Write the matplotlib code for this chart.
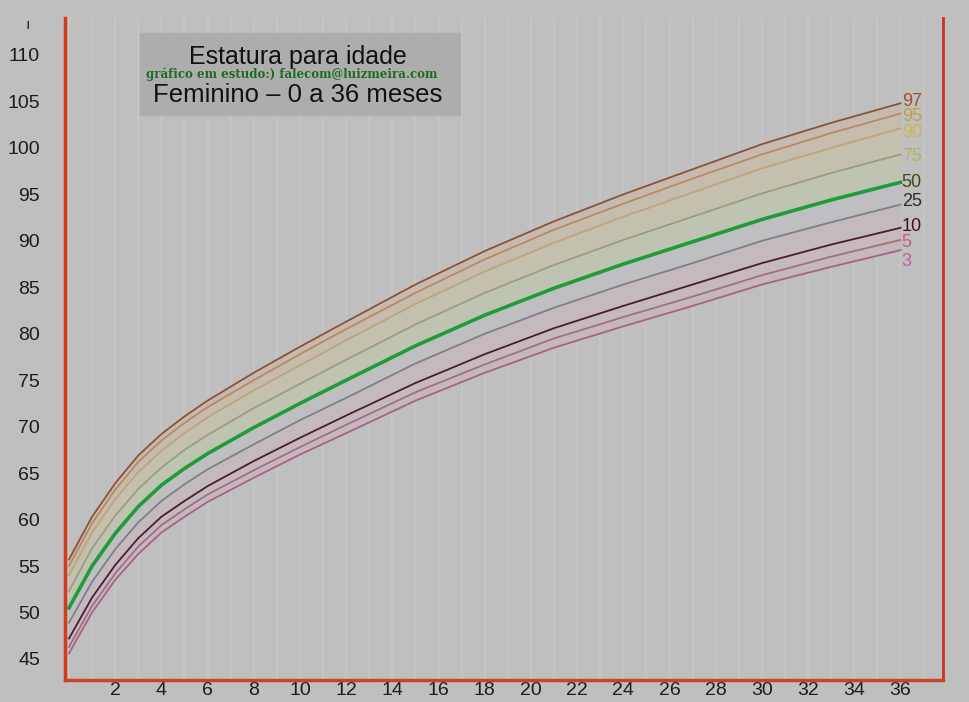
import numpy as np
import matplotlib
matplotlib.use("Agg")
from matplotlib import pyplot as plt

plt.rcParams['font.family'] = ['Liberation Sans', 'DejaVu Sans']

months = [0, 1, 2, 3, 4, 5, 6, 8, 10, 12, 15, 18, 21, 24, 27, 30, 33, 36]

p97 = [55.7, 60.3, 63.9, 66.9, 69.2, 71.1, 72.8, 75.8, 78.6, 81.3, 85.3, 88.9, 92.1, 95.0, 97.7, 100.4, 102.7, 104.8]
p95 = [55.0, 59.6, 63.2, 66.2, 68.5, 70.4, 72.1, 75.0, 77.8, 80.5, 84.4, 88.0, 91.2, 94.0, 96.7, 99.3, 101.6, 103.7]
p90 = [54.0, 58.6, 62.2, 65.1, 67.4, 69.3, 71.0, 73.9, 76.6, 79.3, 83.2, 86.7, 89.8, 92.6, 95.2, 97.8, 100.0, 102.1]
p75 = [52.3, 56.9, 60.4, 63.3, 65.6, 67.5, 69.1, 72.0, 74.6, 77.2, 81.0, 84.4, 87.4, 90.1, 92.6, 95.1, 97.3, 99.3]
p50 = [50.5, 55.0, 58.5, 61.4, 63.7, 65.5, 67.1, 69.9, 72.5, 75.0, 78.7, 82.0, 84.9, 87.5, 89.9, 92.3, 94.4, 96.3]
p25 = [48.9, 53.3, 56.8, 59.7, 62.0, 63.8, 65.4, 68.1, 70.7, 73.1, 76.8, 80.0, 82.8, 85.3, 87.6, 90.0, 92.0, 93.9]
p10 = [47.2, 51.6, 55.1, 58.0, 60.3, 62.0, 63.6, 66.3, 68.8, 71.2, 74.7, 77.8, 80.6, 83.0, 85.3, 87.6, 89.6, 91.4]
p5 = [46.3, 50.7, 54.2, 57.1, 59.4, 61.1, 62.7, 65.3, 67.8, 70.2, 73.7, 76.7, 79.5, 81.8, 84.0, 86.3, 88.3, 90.1]
p3 = [45.6, 50.0, 53.5, 56.3, 58.6, 60.3, 61.9, 64.5, 67.0, 69.3, 72.8, 75.8, 78.5, 80.8, 83.0, 85.3, 87.2, 89.0]

series = [p97, p95, p90, p75, p50, p25, p10, p5, p3]
names = ["97", "95", "90", "75", "50", "25", "10", "5", "3"]
line_colors = ["#8c5238", "#b88a60", "#c0a47c", "#9c9c80", "#1e9c3a",
               "#7e8088", "#4a1a38", "#a07080", "#a8608a"]
label_colors = ["#a0502c", "#c0a040", "#d2b448", "#b4b460", "#3c4c10",
                "#2c2c2c", "#4a1020", "#c06080", "#c0609a"]
label_shift = [0.2, -0.3, -0.4, -0.2, 0.0, 0.3, 0.1, -0.3, -1.2]

yticks = list(range(45, 115, 5))
xticks = list(range(2, 38, 2))

bg = "#bfbfbf"
fig = plt.figure(figsize=(9.7, 7.02), dpi=100, facecolor=bg)
ax = fig.add_axes([65 / 970, 22 / 702, 878 / 970, 662 / 702])
ax.set_facecolor(bg)

# faint vertical stripes
for m in range(0, 38):
    ax.axvline(m, color="#c7c7c7", lw=1.2, zorder=0)

# tinted bands between percentiles
band_colors = ["#c6bab0", "#c5bcae", "#c3c0ae", "#bfc3b2", "#bfbfc2",
               "#c4babd", "#c5b9bd", "#c5b8bc"]
for i in range(len(series) - 1):
    ax.fill_between(months, series[i], series[i + 1], color=band_colors[i],
                    lw=0, zorder=1)

for s, c, n in zip(series, line_colors, names):
    lw = 2.6 if n == "50" else 1.3
    ax.plot(months, s, color=c, lw=lw, zorder=3)

for s, n, c, d in zip(series, names, label_colors, label_shift):
    ax.text(36.05, s[-1] + d, n, color=c, fontsize=13, ha="left", va="center",
            zorder=4)

ax.set_xlim(-0.17, 37.84)
ax.set_ylim(42.74, 113.98)
ax.set_xticks(xticks)
ax.set_yticks(yticks)
ax.tick_params(length=0, labelsize=14, colors="#1c1c1c")
ax.tick_params(axis="y", pad=18)
ax.tick_params(axis="x", pad=1.5)

ax.spines["top"].set_visible(False)
ax.spines["left"].set_color("#d03c1c")
ax.spines["left"].set_linewidth(2.5)
ax.spines["bottom"].set_color("#c84424")
ax.spines["bottom"].set_linewidth(2.5)
ax.spines["right"].set_color("#c83030")
ax.spines["right"].set_linewidth(2)

# title box
fig.patches.append(plt.Rectangle((140 / 970, 1 - 115 / 702), 320 / 970, 82 / 702,
                                 transform=fig.transFigure, color="#adadad",
                                 zorder=5))
fig.text(298 / 970, 1 - 57 / 702, "Estatura para idade", fontsize=18,
         ha="center", va="center", color="#111111", zorder=6)
fig.text(292 / 970, 1 - 74 / 702, "gráfico em estudo:) falecom@luizmeira.com",
         fontsize=8.5, fontweight="bold", family="DejaVu Serif",
         ha="center", va="center", color="#1c6a1c", zorder=7)
fig.text(298 / 970, 1 - 95 / 702, "Feminino \u2013 0 a 36 meses", fontsize=18.5,
         ha="center", va="center", color="#111111", zorder=6)
fig.text(28 / 970, 1 - 25 / 702, "ı", fontsize=11, ha="center", va="center",
         color="#222222")

fig.savefig("out.png", dpi=100, facecolor=bg)
